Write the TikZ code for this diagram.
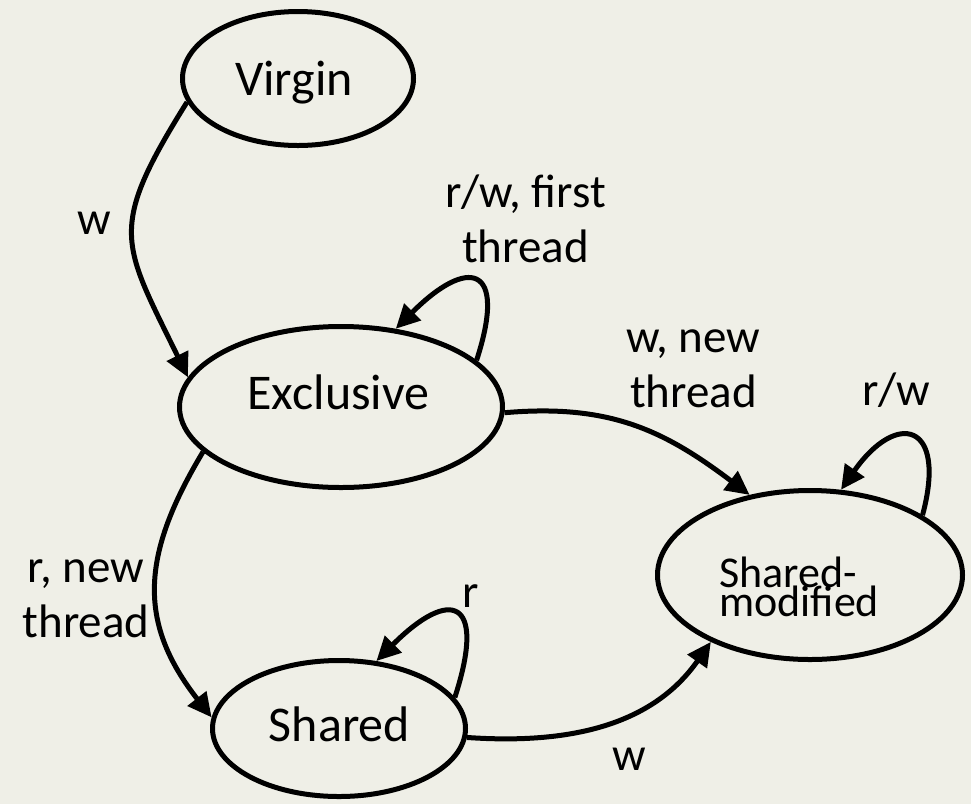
\documentclass[tikz,border=0pt]{standalone}
\usepackage{fontspec}
\setmainfont{Carlito}
\usetikzlibrary{arrows.meta,shapes.geometric}
\definecolor{paper}{RGB}{239,239,231}

% two stacked lines with a fixed baseline distance; baseline of the box = first line
\newcommand{\stackc}[3]{\vtop{\baselineskip=#1\lineskiplimit=-\maxdimen\halign{\hfil##\hfil\cr#2\cr#3\cr}}}
\newcommand{\stackl}[3]{\vtop{\baselineskip=#1\lineskiplimit=-\maxdimen\halign{##\hfil\cr#2\cr#3\cr}}}

\begin{document}
\begin{tikzpicture}[x=1pt,y=1pt,
  state/.style={draw, ellipse, line width=5pt, inner sep=0pt},
  statename/.style={font=\fontsize{50}{60}\selectfont, anchor=base, inner sep=0pt},
  lbl/.style={font=\fontsize{47}{55}\selectfont, anchor=base, inner sep=0pt},
  trans/.style={line width=5pt, -{Triangle[length=24pt,width=23pt]}},
]
\fill[paper] (0,0) rectangle (971,-804);
\useasboundingbox (0,0) rectangle (971,-804);

% states
\node[state, minimum width=231pt, minimum height=134pt] (virgin) at (298,-78.5) {};
\node[state, minimum width=323pt, minimum height=161pt] (excl) at (341,-407) {};
\node[state, minimum width=253pt, minimum height=136pt] (shared) at (339,-728.5) {};
\node[state, minimum width=305pt, minimum height=169pt] (sm) at (810,-575) {};

\node[statename] (virgin-t) at (294,-95) {Virgin};
\node[statename] (excl-t) at (338.5,-409) {Exclusive};
\node[statename] (shared-t) at (339.5,-741) {Shared};
\node[statename, font=\fontsize{44}{29}\selectfont, anchor=base west] (sm-t) at (719,-587) {\stackl{29pt}{Shared-}{modified}};

% transitions
\draw[trans] (virgin.192) to[out=238, in=116, looseness=1.4] (excl.169);
\draw[trans] (excl.19) to[out=72, in=45, looseness=3] (excl.55);
\draw[trans] (excl.-2) to[out=5, in=143, looseness=1.05] (sm.127);
\draw[trans] (excl.198) to[out=239, in=128, looseness=1.16] (shared.175);
\draw[trans] (shared.-4) to[out=-4, in=235] (sm.214);
\draw[trans] (shared.15) to[out=72, in=45, looseness=3.1] (shared.61);
\draw[trans] (sm.28) to[out=75, in=55, looseness=2.9] (sm.70);

% transition labels
\node[lbl] (l-w1) at (94.5,-234) {w};
\node[lbl] (l-rwf) at (525.5,-207) {\stackc{55pt}{r/w, first}{thread}};
\node[lbl] (l-wnew) at (693.5,-352) {\stackc{55pt}{w, new}{thread}};
\node[lbl] (l-rw) at (896.5,-405) {r/w};
\node[lbl] (l-rnew) at (86,-582) {\stackc{55pt}{r, new}{thread}};
\node[lbl] (l-r) at (470.5,-607) {r};
\node[lbl] (l-w2) at (629,-770) {w};
\end{tikzpicture}
\end{document}
